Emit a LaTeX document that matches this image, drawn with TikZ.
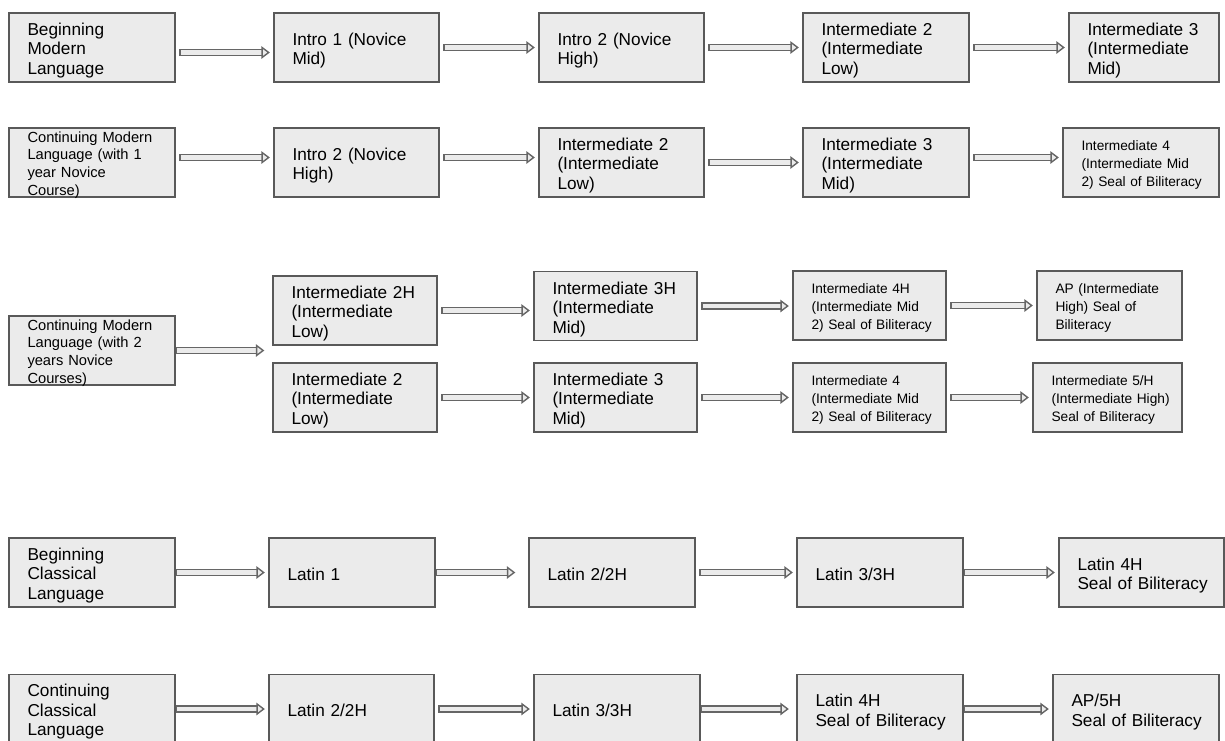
\documentclass[tikz,border=0pt]{standalone}
\usepackage{fontspec}
\setmainfont{Liberation Sans}
\usetikzlibrary{arrows.meta}

\begin{document}
\begin{tikzpicture}[
  box/.style={draw=black!65, fill=black!8, line width=0.026cm, align=left, inner xsep=0.37cm, inner ysep=0pt, minimum height=1.38cm, font=\fontsize{9.8}{11.2}\selectfont},
  one/.style={text height=0.84cm, text depth=0.54cm},
  two/.style={text height=0.64cm, text depth=0.74cm},
  three/.style={text height=0.44cm, text depth=0.94cm},
  small/.style={font=\fontsize{8.35}{10.2}\selectfont, text height=0.28cm, text depth=1.1cm},
  tiny/.style={font=\fontsize{7.8}{10.3}\selectfont, text height=0.44cm, text depth=0.94cm},
  flow/.style={draw=black!60, double=black!8, double distance=0.09cm, line width=0.028cm, shorten <=0.07cm, shorten >=0.07cm, {Bar[width=0.146cm,line width=0.028cm]}-{Triangle[length=0.17cm,width=0.25cm,line width=0.028cm,fill=black!8]}}]
\clip (0,0) rectangle (24.5,-14.8);

% beginning modern language
\node[box, three, text width=2.58cm] (r1c1) at (1.84,-0.95) {Beginning\\Modern\\Language};
\node[box, two, text width=2.56cm] (r1c2) at (7.13,-0.95) {Intro 1 (Novice\\Mid)};
\node[box, two, text width=2.56cm] (r1c3) at (12.43,-0.95) {Intro 2 (Novice\\High)};
\node[box, three, text width=2.58cm] (r1c4) at (17.72,-0.95) {Intermediate 2\\(Intermediate\\Low)};
\node[box, three, text width=2.26cm] (r1c5) at (22.88,-0.95) {Intermediate 3\\(Intermediate\\Mid)};

% continuing, 1 year
\node[box, small, text width=2.58cm] (r2c1) at (1.84,-3.25) {Continuing Modern\\Language (with 1\\year Novice\\Course)};
\node[box, two, text width=2.56cm] (r2c2) at (7.13,-3.25) {Intro 2 (Novice\\High)};
\node[box, three, text width=2.56cm] (r2c3) at (12.43,-3.25) {Intermediate 2\\(Intermediate\\Low)};
\node[box, three, text width=2.58cm] (r2c4) at (17.72,-3.25) {Intermediate 3\\(Intermediate\\Mid)};
\node[box, tiny, text width=2.38cm] (r2c5) at (22.82,-3.25) {Intermediate 4\\(Intermediate Mid\\\mbox{2) Seal of Biliteracy}};

% continuing, 2 years
\node[box, small, text width=2.58cm] (r3c1) at (1.84,-7.01) {Continuing Modern\\Language (with 2\\years Novice\\Courses)};
\node[box, three, text width=2.54cm] (r3c2) at (7.10,-6.21) {Intermediate 2H\\(Intermediate\\Low)};
\node[box, three, text width=2.52cm, text depth=0.92cm] (r3c3) at (12.31,-6.12) {Intermediate 3H\\(Intermediate\\Mid)};
\node[box, tiny, text width=2.32cm] (r3c4) at (17.39,-6.11) {Intermediate 4H\\(Intermediate Mid\\\mbox{2) Seal of Biliteracy}};
\node[box, tiny, text width=2.16cm] (r3c5) at (22.19,-6.11) {AP (Intermediate\\High) Seal of\\Biliteracy};
\node[box, three, text width=2.54cm] (r4c2) at (7.10,-7.95) {Intermediate 2\\(Intermediate\\Low)};
\node[box, three, text width=2.52cm] (r4c3) at (12.31,-7.95) {Intermediate 3\\(Intermediate\\Mid)};
\node[box, tiny, text width=2.32cm] (r4c4) at (17.39,-7.95) {Intermediate 4\\(Intermediate Mid\\\mbox{2) Seal of Biliteracy}};
\node[box, tiny, text width=2.24cm] (r4c5) at (22.15,-7.95) {Intermediate 5/H\\\mbox{(Intermediate High)}\\Seal of Biliteracy};

% classical
\node[box, three, text width=2.58cm] (r5c1) at (1.84,-11.45) {Beginning\\Classical\\Language};
\node[box, one, text width=2.58cm] (r5c2) at (7.04,-11.45) {Latin 1};
\node[box, one, text width=2.58cm] (r5c3) at (12.24,-11.45) {Latin 2/2H};
\node[box, one, text width=2.58cm] (r5c4) at (17.60,-11.45) {Latin 3/3H};
\node[box, two, text width=2.56cm] (r5c5) at (22.83,-11.45) {Latin 4H\\\mbox{Seal of Biliteracy}};
\node[box, three, text width=2.58cm] (r6c1) at (1.84,-14.18) {Continuing\\Classical\\Language};
\node[box, one, text width=2.56cm] (r6c2) at (7.03,-14.18) {Latin 2/2H};
\node[box, one, text width=2.58cm] (r6c3) at (12.34,-14.18) {Latin 3/3H};
\node[box, two, text width=2.58cm] (r6c4) at (17.60,-14.18) {Latin 4H\\\mbox{Seal of Biliteracy}};
\node[box, two, text width=2.58cm] (r6c5) at (22.72,-14.18) {AP/5H\\\mbox{Seal of Biliteracy}};

\draw[flow] ([yshift=-0.1cm]r1c1.east) -- ([yshift=-0.1cm]r1c2.west);
\draw[flow] (r1c2) -- (r1c3); \draw[flow] (r1c3) -- (r1c4); \draw[flow] (r1c4) -- (r1c5);
\draw[flow] ([yshift=0.1cm]r2c1.east) -- ([yshift=0.1cm]r2c2.west);
\draw[flow] ([yshift=0.1cm]r2c2.east) -- ([yshift=0.1cm]r2c3.west);
\draw[flow] (r2c3) -- (r2c4);
\draw[flow] ([yshift=0.1cm]r2c4.east) -- ([yshift=0.1cm]r2c5.west);
\draw[flow, shorten <=0cm, shorten >=0.16cm] (r3c1.east) -- (r3c1.east -| r3c2.west);
\draw[flow] (r3c2.east) -- (r3c2.east -| r3c3.west);
\draw[flow] (r3c3.east) -- (r3c3.east -| r3c4.west); \draw[flow] (r3c4) -- (r3c5);
\draw[flow] (r4c2) -- (r4c3); \draw[flow] (r4c3) -- (r4c4); \draw[flow] (r4c4) -- (r4c5);
\draw[flow, shorten <=0cm] (r5c1) -- (r5c2);
\draw[flow, shorten <=0cm, shorten >=0.26cm] (r5c2) -- (r5c3);
\draw[flow] (r5c3) -- (r5c4); \draw[flow, shorten <=0cm] (r5c4) -- (r5c5);
\draw[flow, shorten <=0cm] (r6c1) -- (r6c2); \draw[flow] (r6c2) -- (r6c3);
\draw[flow, shorten <=0cm, shorten >=0.15cm] (r6c3) -- (r6c4); \draw[flow, shorten <=0cm] (r6c4) -- (r6c5);
\end{tikzpicture}
\end{document}
